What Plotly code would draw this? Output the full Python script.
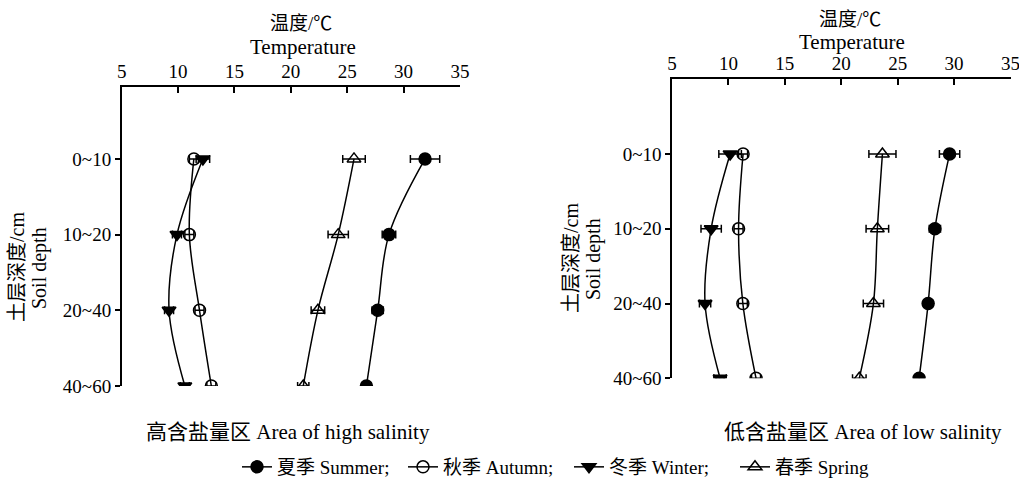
import plotly.graph_objects as go

depths = ["0~10", "10~20", "20~40", "40~60"]
depth_pos = [0, 1, 2, 3]
x_ticks = [5, 10, 15, 20, 25, 30, 35]

# High salinity area
high_summer = [31.9, 28.7, 27.7, 26.7]
high_summer_err = [1.3, 0.6, 0.5, 0.4]
high_autumn = [11.4, 11.0, 11.9, 12.95]
high_autumn_err = [0.4, 0.4, 0.4, 0.4]
high_winter = [12.2, 9.9, 9.2, 10.6]
high_winter_err = [0.6, 0.4, 0.4, 0.4]
high_spring = [25.6, 24.2, 22.4, 21.1]
high_spring_err = [1.0, 0.9, 0.6, 0.5]

# Low salinity area
low_summer = [29.6, 28.3, 27.7, 26.9]
low_summer_err = [0.9, 0.5, 0.4, 0.4]
low_autumn = [11.3, 10.9, 11.28, 12.45]
low_autumn_err = [0.4, 0.4, 0.4, 0.4]
low_winter = [10.15, 8.47, 7.93, 9.26]
low_winter_err = [1.0, 0.9, 0.5, 0.55]
low_spring = [23.65, 23.2, 22.85, 21.6]
low_spring_err = [1.2, 1.0, 0.9, 0.6]

series_names = ["夏季 Summer;", "秋季 Autumn;", "冬季 Winter;", "春季 Spring"]
symbols = ["circle", "circle-open", "triangle-down", "triangle-up-open"]

FONT = "Liberation Serif, Noto Sans CJK SC, serif"
W, H = 1019, 481

fig = go.Figure()

panels = [
    ("x", "y", [high_summer, high_autumn, high_winter, high_spring],
     [high_summer_err, high_autumn_err, high_winter_err, high_spring_err], True),
    ("x2", "y2", [low_summer, low_autumn, low_winter, low_spring],
     [low_summer_err, low_autumn_err, low_winter_err, low_spring_err], False),
]

for xa, ya, vals, errs, show in panels:
    for name, sym, v, e in zip(series_names, symbols, vals, errs):
        fig.add_trace(go.Scatter(
            x=v, y=depth_pos, xaxis=xa, yaxis=ya,
            mode="lines+markers", name=name, showlegend=show,
            line=dict(color="black", width=1.5, shape="spline", smoothing=1.0),
            marker=dict(symbol=sym, size=12, color="black",
                        line=dict(color="black", width=1.5)),
            error_x=dict(type="data", array=e, visible=True, color="black",
                         thickness=1.5, width=4),
        ))

def px_x(p):
    return p / W

def px_y(p):
    return 1 - p / H

axis_common = dict(
    showgrid=False, zeroline=False, showline=True, linecolor="black",
    linewidth=1.5, tickcolor="black", tickwidth=1.5,
    tickfont=dict(family=FONT, size=19, color="black"),
    ticklabeloverflow="allow",
)

fig.update_layout(
    xaxis=dict(domain=[px_x(121.7), px_x(460)], range=[5, 35], side="top",
               tickvals=x_ticks, ticks="inside", ticklen=6, anchor="y",
               **axis_common),
    yaxis=dict(domain=[px_y(386), px_y(87)], range=[3, -0.95],
               tickvals=depth_pos, ticktext=depths, ticks="outside",
               ticklen=5, anchor="x", **axis_common),
    xaxis2=dict(domain=[px_x(672), px_x(1010.5)], range=[5, 35], side="top",
                tickvals=x_ticks, ticks="inside", ticklen=6, anchor="y2",
                **axis_common),
    yaxis2=dict(domain=[px_y(378.3), px_y(79.3)], range=[3, -1.0],
                tickvals=depth_pos, ticktext=depths, ticks="outside",
                ticklen=5, anchor="x2", **axis_common),
)

annotations = [
    # Top titles
    dict(x=px_x(301), y=px_y(23), text="温度/℃", size=19),
    dict(x=px_x(303), y=px_y(47), text="Temperature", size=21),
    dict(x=px_x(850), y=px_y(19), text="温度/℃", size=19),
    dict(x=px_x(852), y=px_y(42), text="Temperature", size=21),
    # Y titles
    dict(x=px_x(17), y=px_y(267), text="土层深度/cm", textangle=-90, size=20),
    dict(x=px_x(39), y=px_y(268), text="Soil depth", textangle=-90, size=20),
    dict(x=px_x(571), y=px_y(258), text="土层深度/cm", textangle=-90, size=20),
    dict(x=px_x(593), y=px_y(259), text="Soil depth", textangle=-90, size=20),
    # Subtitles
    dict(x=px_x(287.5), y=px_y(432), text="高含盐量区 Area of high salinity", size=21),
    dict(x=px_x(863), y=px_y(432), text="低含盐量区 Area of low salinity", size=21),
]
ann_list = []
for a in annotations:
    size = a.pop("size")
    a.update(xref="paper", yref="paper", showarrow=False,
             xanchor="center", yanchor="middle",
             font=dict(family=FONT, color="black", size=size))
    ann_list.append(a)

fig.update_layout(
    annotations=ann_list,
    width=W, height=H,
    margin=dict(l=0, r=0, t=0, b=0, autoexpand=False),
    paper_bgcolor="white", plot_bgcolor="white",
    font=dict(family=FONT, color="black"),
    showlegend=True,
    legend=dict(orientation="h", x=px_x(237), xanchor="left", y=px_y(467),
                yanchor="middle", font=dict(family=FONT, size=19, color="black"),
                itemwidth=30, entrywidth=121, entrywidthmode="pixels",
                bgcolor="rgba(0,0,0,0)", tracegroupgap=0),
)

fig.write_html("out.html")
